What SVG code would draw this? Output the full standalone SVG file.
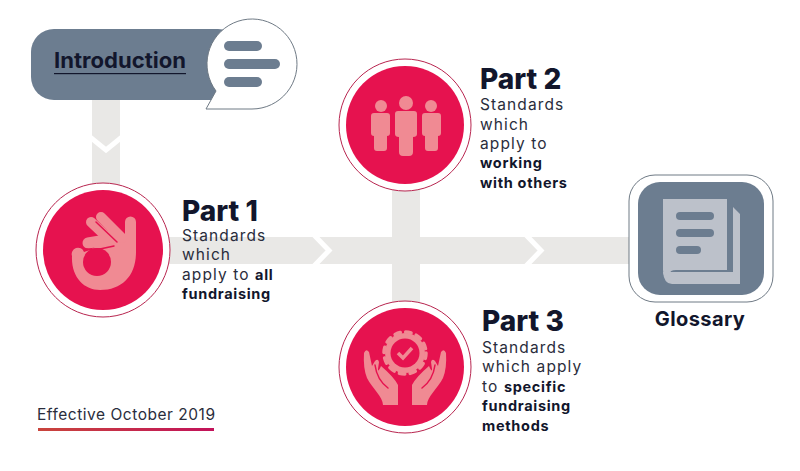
<svg xmlns="http://www.w3.org/2000/svg" width="800" height="471" viewBox="0 0 800 471">
<style>
text{font-family:"Inter","Liberation Sans",sans-serif;fill:#12162c}
.h{font-size:28px;font-weight:800}
.b{font-size:15.500px;fill:#2a2d3c;letter-spacing:1.100px}
.s{font-weight:700;fill:#12162c;font-size:14.500px;letter-spacing:.7px}
.bar{fill:#e9e8e6}
.chev{fill:none;stroke:#fff;stroke-width:5}
.ring{fill:#fff;stroke:#b8254f;stroke-width:1}
.disc{fill:#e6124f}
.ic{fill:#f08a93}
.fg{fill:none;stroke:#f08a93;stroke-linecap:round}
.gap{fill:none;stroke:#e6124f;stroke-width:1.500;stroke-linecap:round}
.sl{fill:#6c7d90}
</style>
<defs><linearGradient id="u" x1="0" x2="1" y1="0" y2="0"><stop offset="0" stop-color="#c9453c"/><stop offset="1" stop-color="#c2125a"/></linearGradient></defs>
<rect width="800" height="471" fill="#fff"/>
<g id="connectors">
<rect class="bar" x="92" y="98" width="28" height="90"/>
<path class="chev" d="M90 137L106 150L122 137"/>
<rect class="bar" x="165" y="237" width="475" height="27"/>
<rect class="bar" x="392" y="185" width="28" height="125"/>
<path class="chev" d="M314 235L329 250.500L314 266"/>
<path class="chev" d="M526 235L541 250.500L526 266"/>
</g>
<g id="introduction">
<rect class="sl" x="31" y="29" width="210" height="71" rx="23"/>
<path d="M206 109L216 91A45 45 0 1 1 252 109Z" fill="#fff" stroke="#6f7a85" stroke-width="1"/>
<rect class="sl" x="224" y="41" width="38" height="10" rx="5"/>
<rect class="sl" x="224" y="59" width="56" height="10" rx="5"/>
<rect class="sl" x="224" y="77" width="38" height="10" rx="5"/>
<text x="54" y="68" font-size="21" font-weight="700" textLength="132" lengthAdjust="spacingAndGlyphs">Introduction</text>
<rect x="54" y="73" width="132" height="1.200" fill="#12162c"/>
</g>
<g id="part1">
<circle class="ring" cx="103" cy="250" r="67"/>
<circle class="disc" cx="103" cy="250" r="60"/>
<path class="ic" d="M72 256A6 6 0 0 1 84 252L90 250L112 236L125 236V222A5.500 5.500 0 0 1 136 222V252C136 276 122 290 100 290C84 290 71 277 72 256Z"/>
<path class="fg" stroke-width="10" d="M101 217L122 238M91 222L110 240"/>
<path class="fg" stroke-width="11" d="M88 243L112 239"/>
<path class="gap" d="M96 222L117 242M86 249Q100 250 114 246"/>
<circle class="disc" cx="97" cy="262" r="14"/>
<text class="h" x="182" y="220.500">Part 1</text>
<text class="b" x="182" y="240.500">Standards</text>
<text class="b" x="182" y="260">which</text>
<text class="b" x="182" y="280">apply to <tspan class="s">all</tspan></text>
<text class="b s" x="182" y="299">fundraising</text>
</g>
<g id="part2">
<circle class="ring" cx="405" cy="125" r="66"/>
<circle class="disc" cx="405" cy="125" r="59"/>
<g class="ic">
<circle cx="406" cy="103" r="7"/><path d="M398 111H414Q417 111 417 114V134Q417 137 413 137V152Q413 156 409 156H403Q399 156 399 152V137Q395 137 395 134V114Q395 111 398 111Z"/>
<circle cx="381" cy="106" r="6"/><path d="M374 113H387Q390 113 390 116V133Q390 136 387 136V148Q387 151 384 151H377Q374 151 374 148V136Q371 136 371 133V116Q371 113 374 113Z"/>
<circle cx="431" cy="106" r="6"/><path d="M425 113H438Q441 113 441 116V133Q441 136 438 136V148Q438 151 435 151H428Q425 151 425 148V136Q422 136 422 133V116Q422 113 425 113Z"/>
</g>
<text class="h" x="480" y="89">Part 2</text>
<text class="b" x="480" y="110">Standards</text>
<text class="b" x="480" y="130">which</text>
<text class="b" x="480" y="149">apply to</text>
<text class="b s" x="480" y="168">working</text>
<text class="b s" x="480" y="188">with others</text>
</g>
<g id="part3">
<circle class="ring" cx="405" cy="367" r="66"/>
<circle class="disc" cx="405" cy="367" r="59"/>
<circle class="ic" cx="405" cy="353" r="20"/>
<circle cx="405" cy="353" r="21" fill="none" stroke="#f08a93" stroke-width="3.500" stroke-dasharray="5.500 5.500" stroke-linecap="round"/>
<circle class="disc" cx="405" cy="353" r="14.500"/>
<path d="M398 353L403 358L412 348" fill="none" stroke="#f08a93" stroke-width="3.500"/>
<g id="hand">
<path class="ic" d="M364 353Q366 348 369 352L372 366L375 361Q378 358 379 362L378 369Q378 373 381 366Q394 377 398 385V405H383C383 397 372 388 367 378Q363 368 364 353Z"/>
<path class="gap" d="M375 365Q377 380 388 388"/>
</g>
<use href="#hand" transform="translate(810 0) scale(-1 1)"/>
<text class="h" x="482" y="331">Part 3</text>
<text class="b" x="482" y="352.500">Standards</text>
<text class="b" x="482" y="372">which apply</text>
<text class="b" x="482" y="392">to <tspan class="s">specific</tspan></text>
<text class="b s" x="482" y="411">fundraising</text>
<text class="b s" x="482" y="431">methods</text>
</g>
<g id="glossary">
<rect x="629" y="175" width="144" height="127" rx="26" fill="#fff" stroke="#6f7a85" stroke-width="1"/>
<rect class="sl" x="638" y="182" width="126" height="113" rx="22"/>
<path d="M733 207L740 214V284H672Q664 284 663 272H733Z" fill="#bcc1ca"/>
<path d="M663 199H727V270H676Q668 270 670 277H724V273H727V278H669Q663 278 663 270Z" fill="#bcc1ca"/>
<rect class="sl" x="676" y="212" width="38" height="8" rx="4"/>
<rect class="sl" x="676" y="229" width="38" height="8" rx="4"/>
<rect class="sl" x="676" y="246" width="25" height="8" rx="4"/>
<text x="700" y="326" font-size="20" font-weight="700" text-anchor="middle" letter-spacing=".4">Glossary</text>
</g>
<g id="effective">
<text x="37" y="420" font-size="15.500" style="fill:#2a2d3c" textLength="178">Effective October 2019</text>
<rect x="38" y="428" width="176" height="3" fill="url(#u)"/>
</g>
</svg>
